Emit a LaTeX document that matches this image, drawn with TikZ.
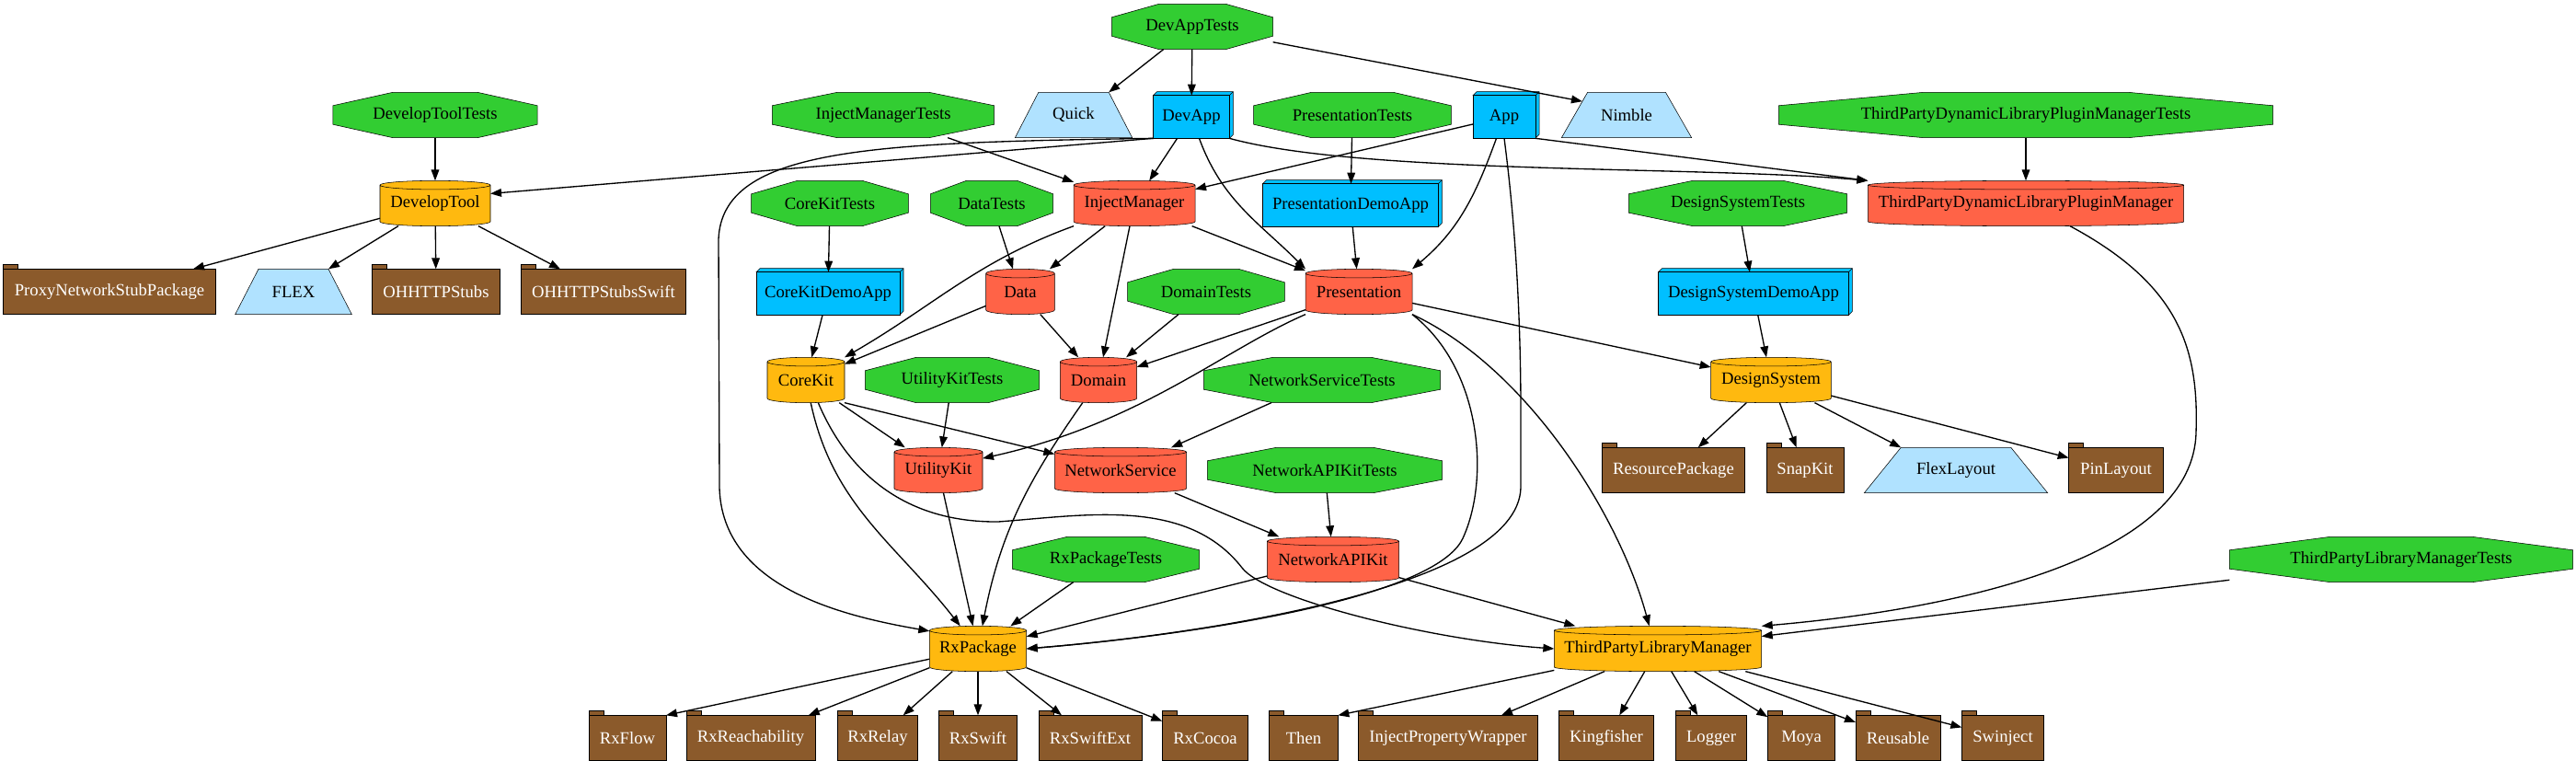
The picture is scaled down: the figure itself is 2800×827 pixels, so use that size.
\documentclass[tikz,border=0pt]{standalone}
\usepackage{fontspec}
\setmainfont{Liberation Serif}
\usetikzlibrary{arrows.meta,calc,backgrounds}
\definecolor{testgreen}{HTML}{32CD32}
\definecolor{localred}{HTML}{FF6347}
\definecolor{coreyellow}{HTML}{FFB90F}
\definecolor{appblue}{HTML}{00BFFF}
\definecolor{extblue}{HTML}{B0E2FF}
\definecolor{pkgbrown}{HTML}{8B5A2B}

\begin{document}
\begin{tikzpicture}[x=0.75pt,y=-0.75pt,line width=1pt,
    mod/.style={minimum height=36pt,inner sep=0pt,font=\fontsize{14}{16}\selectfont},
    app/.style={mod,minimum height=34pt},
    pkg/.style={mod,text=white},
    dep/.style={-{Triangle[length=9pt,width=6.5pt]}}]
  \useasboundingbox (0,0) rectangle (2800,827);

  \node[mod,minimum width=130.5pt] (DevAppTests) at (1296,29) {DevAppTests};

  \node[mod,minimum width=165.75pt] (DevelopToolTests) at (473,125) {DevelopToolTests};
  \node[mod,minimum width=180pt] (InjectManagerTests) at (960,125) {InjectManagerTests};
  \node[mod,minimum width=94.5pt] (Quick) at (1167,125) {Quick};
  \node[app,minimum width=61pt] (DevApp) at (1295,127) {DevApp};
  \node[mod,minimum width=160pt] (PresentationTests) at (1470,125) {PresentationTests};
  \node[app,minimum width=50pt] (App) at (1635,127) {App};
  \node[mod,minimum width=105pt] (Nimble) at (1768,125) {Nimble};
  \node[mod,minimum width=402pt] (PluginManagerTests) at (2202,125) {ThirdPartyDynamicLibraryPluginManagerTests};

  \node[mod,minimum width=89pt] (DevelopTool) at (473,221) {DevelopTool};
  \node[mod,minimum width=127pt] (CoreKitTests) at (902,221) {CoreKitTests};
  \node[mod,minimum width=99pt] (DataTests) at (1078,221) {DataTests};
  \node[mod,minimum width=98pt] (InjectManager) at (1233,221) {InjectManager};
  \node[app,minimum width=142pt] (PresentationDemoApp) at (1468,223) {PresentationDemoApp};
  \node[mod,minimum width=177pt] (DesignSystemTests) at (1889,221) {DesignSystemTests};
  \node[mod,minimum width=256.5pt] (PluginManager) at (2202,221) {ThirdPartyDynamicLibraryPluginManager};

  \node[pkg,minimum width=172pt] (ProxyNetworkStubPackage) at (119,317) {ProxyNetworkStubPackage};
  \node[mod,minimum width=94pt] (FLEX) at (319,317) {FLEX};
  \node[pkg,minimum width=103.5pt] (OHHTTPStubs) at (474,317) {OHHTTPStubs};
  \node[pkg,minimum width=133.5pt] (OHHTTPStubsSwift) at (656,317) {OHHTTPStubsSwift};
  \node[app,minimum width=116pt] (CoreKitDemoApp) at (900,319) {CoreKitDemoApp};
  \node[mod,minimum width=55pt] (Data) at (1109,317) {Data};
  \node[mod,minimum width=127pt] (DomainTests) at (1311,317) {DomainTests};
  \node[mod,minimum width=86pt] (Presentation) at (1477,317) {Presentation};
  \node[app,minimum width=154pt] (DesignSystemDemoApp) at (1906,319) {DesignSystemDemoApp};

  \node[mod,minimum width=62pt] (CoreKit) at (876,413) {CoreKit};
  \node[mod,minimum width=141pt] (UtilityKitTests) at (1035,413) {UtilityKitTests};
  \node[mod,minimum width=61.5pt] (Domain) at (1194,413) {Domain};
  \node[mod,minimum width=192pt] (NetworkServiceTests) at (1437,413) {NetworkServiceTests};
  \node[mod,minimum width=97pt] (DesignSystem) at (1925,413) {DesignSystem};

  \node[mod,minimum width=71pt] (UtilityKit) at (1020,511) {UtilityKit};
  \node[mod,minimum width=106.5pt] (NetworkService) at (1218,511) {NetworkService};
  \node[mod,minimum width=190.5pt] (NetworkAPIKitTests) at (1440,511) {NetworkAPIKitTests};
  \node[pkg,minimum width=115.5pt] (ResourcePackage) at (1819,511) {ResourcePackage};
  \node[pkg,minimum width=62pt] (SnapKit) at (1962,511) {SnapKit};
  \node[mod,minimum width=148.5pt] (FlexLayout) at (2126,511) {FlexLayout};
  \node[pkg,minimum width=76pt] (PinLayout) at (2300,511) {PinLayout};

  \node[mod,minimum width=151.5pt] (RxPackageTests) at (1202,608) {RxPackageTests};
  \node[mod,minimum width=106.5pt] (NetworkAPIKit) at (1449,608) {NetworkAPIKit};
  \node[mod,minimum width=279pt] (LibraryManagerTests) at (2610,608) {ThirdPartyLibraryManagerTests};

  \node[mod,minimum width=78pt] (RxPackage) at (1063,705) {RxPackage};
  \node[mod,minimum width=168pt] (LibraryManager) at (1802,705) {ThirdPartyLibraryManager};

  \node[pkg,minimum width=62pt] (RxFlow) at (682,802) {RxFlow};
  \node[pkg,minimum width=104pt] (RxReachability) at (816,802) {RxReachability};
  \node[pkg,minimum width=64.5pt] (RxRelay) at (954,802) {RxRelay};
  \node[pkg,minimum width=63pt] (RxSwift) at (1063,802) {RxSwift};
  \node[pkg,minimum width=83pt] (RxSwiftExt) at (1185,802) {RxSwiftExt};
  \node[pkg,minimum width=69pt] (RxCocoa) at (1310,802) {RxCocoa};
  \node[pkg,minimum width=55pt] (Then) at (1417,802) {Then};
  \node[pkg,minimum width=145.5pt] (InjectPropertyWrapper) at (1574,802) {InjectPropertyWrapper};
  \node[pkg,minimum width=76.5pt] (Kingfisher) at (1746,802) {Kingfisher};
  \node[pkg,minimum width=57pt] (Logger) at (1860,802) {Logger};
  \node[pkg,minimum width=54pt] (Moya) at (1958,802) {Moya};
  \node[pkg,minimum width=68pt] (Reusable) at (2063,802) {Reusable};
  \node[pkg,minimum width=66pt] (Swinject) at (2177,802) {Swinject};

  \begin{scope}[on background layer]
    \foreach \m in {DevAppTests,DevelopToolTests,InjectManagerTests,PresentationTests,PluginManagerTests,CoreKitTests,DataTests,DesignSystemTests,DomainTests,UtilityKitTests,NetworkServiceTests,NetworkAPIKitTests,RxPackageTests,LibraryManagerTests}
      \draw[fill=testgreen] ($(\m.north west)!.293!(\m.north east)$) -- ($(\m.north west)!.707!(\m.north east)$) -- ($(\m.north east)!.293!(\m.south east)$) -- ($(\m.north east)!.707!(\m.south east)$) -- ($(\m.south west)!.707!(\m.south east)$) -- ($(\m.south west)!.293!(\m.south east)$) -- ($(\m.north west)!.707!(\m.south west)$) -- ($(\m.north west)!.293!(\m.south west)$) -- cycle;

    \foreach \m/\col in {InjectManager/localred,Data/localred,Domain/localred,Presentation/localred,UtilityKit/localred,NetworkService/localred,NetworkAPIKit/localred,PluginManager/localred,DevelopTool/coreyellow,CoreKit/coreyellow,DesignSystem/coreyellow,RxPackage/coreyellow,LibraryManager/coreyellow}
      \draw[fill=\col] let \p1=(\m.north west), \p2=(\m.south east), \n1={(\x2-\x1)/2} in
        (\x1,\y1-3.6pt) -- (\x1,\y2+3.6pt) arc[start angle=180,end angle=360,x radius=\n1,y radius=3.6pt]
        -- (\x2,\y1-3.6pt) arc[start angle=0,end angle=180,x radius=\n1,y radius=3.6pt] -- cycle
        (\x1,\y1-3.6pt) arc[start angle=180,end angle=360,x radius=\n1,y radius=3.6pt];

    \foreach \m in {DevApp,App,PresentationDemoApp,CoreKitDemoApp,DesignSystemDemoApp} {
      \draw[fill=appblue] (\m.north west) -- ++(3pt,3pt) -- ($(\m.north east)+(3pt,3pt)$) -- ($(\m.south east)+(3pt,3pt)$) -- (\m.south east) -- (\m.north east) -- cycle;
      \draw[fill=appblue] (\m.south west) rectangle (\m.north east);
      \draw (\m.north east) -- ++(3pt,3pt);
    }

    \foreach \m in {Quick,Nimble,FLEX,FlexLayout} {
      \coordinate (\m-tl) at ($(\m.north west)!.2!(\m.north east)$);
      \coordinate (\m-tr) at ($(\m.north west)!.8!(\m.north east)$);
      \draw[fill=extblue] (\m.south west) -- (\m-tl) -- (\m-tr) -- (\m.south east) -- cycle;
    }

    \foreach \m in {ProxyNetworkStubPackage,OHHTTPStubs,OHHTTPStubsSwift,ResourcePackage,SnapKit,PinLayout,RxFlow,RxReachability,RxRelay,RxSwift,RxSwiftExt,RxCocoa,Then,InjectPropertyWrapper,Kingfisher,Logger,Moya,Reusable,Swinject} {
      \draw[fill=pkgbrown] (\m.south west) rectangle (\m.north east);
      \draw[fill=pkgbrown] (\m.north west) rectangle ++(12pt,4pt);
    }
  \end{scope}

  \draw[dep] (DevAppTests) -- (Quick-tr);
  \draw[dep] (DevAppTests) -- (DevApp);
  \draw[dep] (DevAppTests) -- ($(Nimble-tl)!.2!(Nimble.south west)$);

  \draw[dep] (DevelopToolTests) -- (DevelopTool);
  \draw[dep] (DevelopTool) -- (ProxyNetworkStubPackage);
  \draw[dep] (DevelopTool) -- (FLEX-tr);
  \draw[dep] (DevelopTool) -- (OHHTTPStubs);
  \draw[dep] (DevelopTool) -- (OHHTTPStubsSwift);

  \draw[dep] (DevApp.south west) -- (DevelopTool.10);
  \draw[dep] (DevApp) -- (InjectManager);
  \draw[dep] (DevApp) to[out=-70,in=135] (Presentation.north west);
  \draw[dep] (DevApp.south east) .. controls (1480,190) and (1850,180) .. (PluginManager.north west);
  \draw[dep] (DevApp.south west) .. controls (950,155) and (785,160) .. (781,260) -- (782,530) .. controls (785,640) and (920,670) .. (RxPackage.160);

  \draw[dep] (App) -- (InjectManager);
  \draw[dep] (App) to[out=-110,in=40] (Presentation.north east);
  \draw[dep] (App.south east) -- (PluginManager.north west);
  \draw[dep] (App.south) .. controls (1648,250) and (1653,350) .. (1653,450) -- (1653,530) .. controls (1650,640) and (1300,690) .. (RxPackage.east);

  \draw[dep] (InjectManagerTests) -- (InjectManager);
  \draw[dep] (PresentationTests) -- (PresentationDemoApp);
  \draw[dep] (PresentationDemoApp) -- (Presentation);
  \draw[dep] (PluginManagerTests) -- (PluginManager);
  \draw[dep] ([xshift=36pt]PluginManager.south) .. controls (2370,310) and (2390,380) .. (2387,470) .. controls (2384,600) and (2150,660) .. (LibraryManager.north east);

  \draw[dep] (CoreKitTests) -- (CoreKitDemoApp);
  \draw[dep] (CoreKitDemoApp) -- (CoreKit);
  \draw[dep] (DataTests) -- (Data);
  \draw[dep] (InjectManager) -- (Data);
  \draw[dep] (InjectManager.south west) to[out=-160,in=30] (CoreKit.north east);
  \draw[dep] (InjectManager) -- (Domain);
  \draw[dep] (InjectManager) -- (Presentation);
  \draw[dep] (DesignSystemTests) -- (DesignSystemDemoApp);
  \draw[dep] (DesignSystemDemoApp) -- (DesignSystem);

  \draw[dep] (Data) -- (CoreKit);
  \draw[dep] (Data) -- (Domain);
  \draw[dep] (DomainTests) -- (Domain);
  \draw[dep] (Presentation) -- (Domain);
  \draw[dep] (Presentation.south west) .. controls (1330,380) and (1240,460) .. (UtilityKit.15);
  \draw[dep] (Presentation) -- (DesignSystem);
  \draw[dep] (Presentation.south east) .. controls (1660,400) and (1760,560) .. ([xshift=-7pt]LibraryManager.north);
  \draw[dep] (Presentation.south east) .. controls (1610,400) and (1620,520) .. (1590,585) .. controls (1560,650) and (1300,690) .. (RxPackage.east);

  \draw[dep] (CoreKit) -- (UtilityKit);
  \draw[dep] (CoreKit.south east) -- (NetworkService);
  \draw[dep] (CoreKit) to[out=-78,in=128] (RxPackage);
  \draw[dep] ([xshift=10pt]CoreKit.south) .. controls (920,510) and (980,568) .. (1085,567) .. controls (1180,560) and (1290,540) .. (1350,617) .. controls (1375,650) and (1550,695) .. (LibraryManager.west);
  \draw[dep] (UtilityKitTests) -- (UtilityKit);
  \draw[dep] (Domain) to[out=-125,in=79] (RxPackage);
  \draw[dep] (UtilityKit) -- (RxPackage);
  \draw[dep] (NetworkServiceTests) -- (NetworkService);
  \draw[dep] (NetworkService) -- (NetworkAPIKit);
  \draw[dep] (NetworkAPIKitTests) -- (NetworkAPIKit);
  \draw[dep] (NetworkAPIKit) -- (RxPackage);
  \draw[dep] (NetworkAPIKit) -- (LibraryManager);
  \draw[dep] (RxPackageTests) -- (RxPackage);

  \draw[dep] (DesignSystem) -- (ResourcePackage);
  \draw[dep] (DesignSystem) -- (SnapKit);
  \draw[dep] (DesignSystem) -- (FlexLayout-tl);
  \draw[dep] (DesignSystem) -- (PinLayout);
  \draw[dep] (LibraryManagerTests) -- (LibraryManager);

  \draw[dep] (RxPackage) -- (RxFlow.north east);
  \draw[dep] (RxPackage) -- (RxReachability);
  \draw[dep] (RxPackage) -- (RxRelay);
  \draw[dep] (RxPackage) -- (RxSwift);
  \draw[dep] (RxPackage) -- (RxSwiftExt);
  \draw[dep] (RxPackage) -- (RxCocoa);

  \draw[dep] (LibraryManager) -- (Then.north east);
  \draw[dep] (LibraryManager) -- (InjectPropertyWrapper);
  \draw[dep] (LibraryManager) -- (Kingfisher);
  \draw[dep] (LibraryManager) -- (Logger);
  \draw[dep] (LibraryManager) -- (Moya);
  \draw[dep] (LibraryManager) -- (Reusable);
  \draw[dep] (LibraryManager) -- (Swinject);
\end{tikzpicture}
\end{document}
